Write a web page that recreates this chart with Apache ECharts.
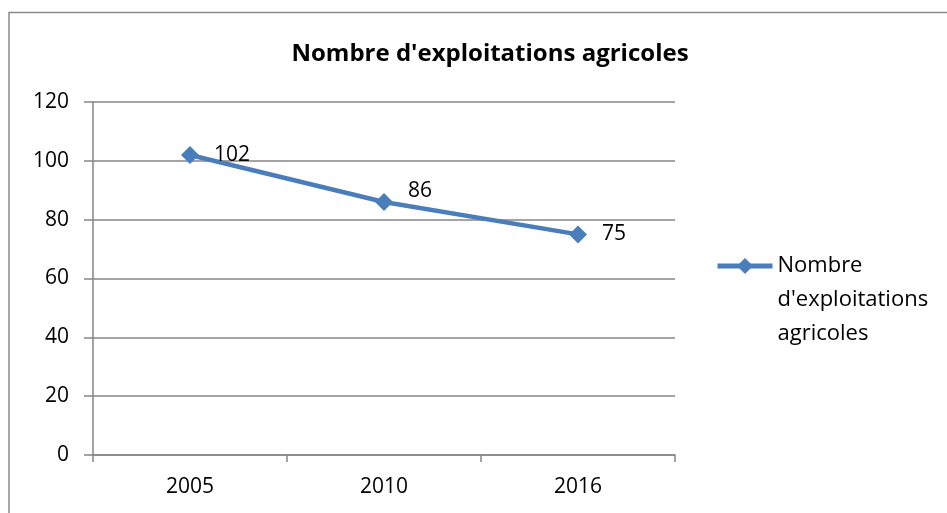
<!DOCTYPE html>
<html>
<head>
<meta charset="utf-8">
<script src="https://cdn.jsdelivr.net/npm/echarts@6/dist/echarts.min.js"></script>
<style>html,body{margin:0;padding:0;background:#fff}#c{width:947px;height:513px}</style>
</head>
<body>
<div id="c"></div>
<script>
var categories = ['2005', '2010', '2016'];
var values = [102, 86, 75];
var yTicks = [0, 20, 40, 60, 80, 100, 120];
var seriesName = "Nombre d'exploitations agricoles";
var titleText = "Nombre d'exploitations agricoles";

var FONT = 'Open Sans';
var chart = echarts.init(document.getElementById('c'), null, {renderer: 'canvas'});
chart.setOption({
  animation: false,
  backgroundColor: '#fff',
  title: {
    text: titleText,
    left: 485, top: 37, textAlign: 'center',
    textStyle: {fontFamily: FONT, fontWeight: 'bold', fontSize: 24, color: '#000'}
  },
  graphic: [{
    type: 'rect', shape: {x: 9, y: 12.5, width: 1000, height: 600},
    style: {fill: 'none', stroke: '#8a8a8a', lineWidth: 1.5}, silent: true
  }],
  legend: {
    orient: 'vertical', left: 715, top: 181, padding: 0,
    itemWidth: 55, itemHeight: 20, itemGap: 0,
    data: [seriesName],
    lineStyle: {width: 5, color: '#4a7ebb'},
    itemStyle: {color: '#4a7ebb'},
    formatter: function () { return '\n\nNombre\nd\'exploitations\nagricoles'; },
    textStyle: {fontFamily: FONT, fontSize: 22, color: '#000', lineHeight: 34}
  },
  grid: {left: 93, right: 272, top: 102, bottom: 58},
  xAxis: {
    type: 'category', data: categories, boundaryGap: true,
    axisLine: {lineStyle: {color: '#868686', width: 1.5}},
    axisTick: {show: true, length: 7, lineStyle: {color: '#868686', width: 1.5}},
    axisLabel: {fontFamily: FONT, fontSize: 21, color: '#000', margin: 22}
  },
  yAxis: {
    type: 'value', min: yTicks[0], max: yTicks[yTicks.length - 1], interval: 20,
    axisLine: {show: true, lineStyle: {color: '#868686', width: 1.5}},
    axisTick: {show: true, length: 9, lineStyle: {color: '#868686', width: 1.5}},
    splitLine: {lineStyle: {color: '#868686', width: 1.5}},
    axisLabel: {fontFamily: FONT, fontSize: 21, color: '#000', margin: 24}
  },
  series: [{
    name: seriesName, type: 'line',
    data: values.map(function (v, i) {
      return i === 1 ? {value: v, label: {offset: [0, -11]}} : v;
    }),
    symbol: 'diamond', symbolSize: 18,
    lineStyle: {color: '#4a7ebb', width: 4.5},
    itemStyle: {color: '#4a7ebb'},
    label: {show: true, position: 'right', distance: 15, fontFamily: FONT, fontSize: 21, color: '#000'}
  }]
});
</script>
</body>
</html>
